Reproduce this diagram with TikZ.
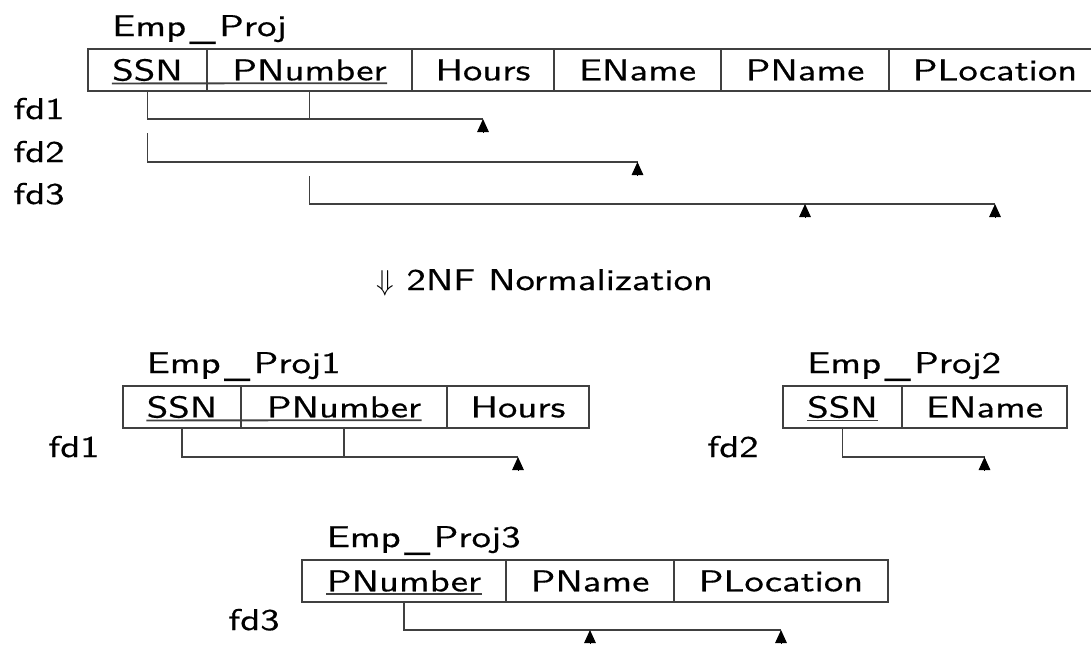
\documentclass[tikz,border=0pt]{standalone}
\usepackage{fontspec}
\setmainfont{lmsans10-regular.otf}[FakeStretch=1.29, FakeBold=0.5]
\usetikzlibrary{positioning,arrows.meta}
\newcommand{\relus}{\kern.12em\raisebox{-1.5pt}{\_}\kern.12em}

\begin{document}
\begin{tikzpicture}[x=0.5pt,y=-0.5pt,
    font=\fontsize{15}{18}\selectfont,
    cell/.style={draw=black!75, line width=0.9pt, minimum height=21pt, inner sep=0pt, outer sep=0pt},
    attr/.style={inner sep=0pt},
    title/.style={anchor=base west, inner sep=0pt, yshift=6.5pt},
    fdlabel/.style={anchor=base west, inner sep=0pt},
    fd/.style={draw=black!75, line width=0.9pt},
    tip/.style={-{Triangle[length=6.5pt,width=5.8pt]}, line width=0.5pt}]
  \useasboundingbox (0,0) rectangle (1091,644);
  \coordinate (l1) at (0,119);
  \coordinate (l2) at (0,162);
  \coordinate (l3) at (0,204);
  \coordinate (l4) at (0,457);
  \coordinate (l5) at (0,630);

  % Emp_Proj
  \node[cell, minimum width=59.5pt, label={[attr,name=ssnT]center:SSN}] (ssn) at (147.5,70) {};
  \node[cell, minimum width=102.5pt, right=0pt of ssn, label={[attr,name=pnumT]center:PNumber}] (pnum) {};
  \node[cell, minimum width=71pt, right=0pt of pnum] (hours) {Hours};
  \node[cell, minimum width=83.5pt, right=0pt of hours] (ename) {EName};
  \node[cell, minimum width=84pt, right=0pt of ename] (pname) {PName};
  \node[cell, minimum width=106pt, right=0pt of pname] (ploc) {PLocation};
  \node[title] (emp) at (ssnT.west |- ssn.north) {Emp\relus Proj};
  \draw[fd] ([yshift=-1.5pt]ssnT.base west) -- ([yshift=-1.5pt]pnumT.base east);

  \node[fdlabel] (fd1) at (13,119) {fd1};
  \node[fdlabel] (fd2) at (13,162) {fd2};
  \node[fdlabel] (fd3) at (13,204) {fd3};

  \draw[fd] (ssn.south) |- (hours.south |- l1);
  \draw[fd] (pnum.south) -- (pnum.south |- l1);
  \draw[tip] (hours.south |- l1) ++(0,13) -- (hours.south |- l1);

  \draw[fd] (ssn.south |- l1) ++(0,14) |- (ename.south |- l2);
  \draw[tip] (ename.south |- l2) ++(0,13) -- (ename.south |- l2);

  \draw[fd] (pnum.south |- l2) ++(0,14) |- (ploc.south |- l3);
  \draw[tip] (pname.south |- l3) ++(0,13) -- (pname.south |- l3);
  \draw[tip] (ploc.south |- l3) ++(0,13) -- (ploc.south |- l3);

  \node[anchor=base] (norm) at (544.5,290) {$\Downarrow$ 2NF Normalization};

  % Emp_Proj1
  \node[cell, minimum width=59pt, label={[attr,name=ssn1T]center:SSN}] (ssn1) at (182,407) {};
  \node[cell, minimum width=103pt, right=0pt of ssn1, label={[attr,name=pnum1T]center:PNumber}] (pnum1) {};
  \node[cell, minimum width=71pt, right=0pt of pnum1] (hours1) {Hours};
  \node[title] (emp1) at (ssn1T.west |- ssn1.north) {Emp\relus Proj1};
  \draw[fd] ([yshift=-1.5pt]ssn1T.base west) -- ([yshift=-1.5pt]pnum1T.base east);
  \node[fdlabel] (fd1b) at (48,457) {fd1};
  \draw[fd] (ssn1.south) |- (hours1.south |- l4);
  \draw[fd] (pnum1.south) -- (pnum1.south |- l4);
  \draw[tip] (hours1.south |- l4) ++(0,13) -- (hours1.south |- l4);

  % Emp_Proj2
  \node[cell, minimum width=59.5pt, label={[attr,name=ssn2T]center:SSN}] (ssn2) at (842.5,407) {};
  \node[cell, minimum width=82.5pt, right=0pt of ssn2] (ename2) {EName};
  \node[title] (emp2) at (ssn2T.west |- ssn2.north) {Emp\relus Proj2};
  \draw[fd] ([yshift=-1.5pt]ssn2T.base west) -- ([yshift=-1.5pt]ssn2T.base east);
  \node[fdlabel] (fd2b) at (707,457) {fd2};
  \draw[fd] (ssn2.south) |- (ename2.south |- l4);
  \draw[tip] (ename2.south |- l4) ++(0,13) -- (ename2.south |- l4);

  % Emp_Proj3
  \node[cell, minimum width=102pt, label={[attr,name=pnum3T]center:PNumber}] (pnum3) at (404,581) {};
  \node[cell, minimum width=84pt, right=0pt of pnum3] (pname3) {PName};
  \node[cell, minimum width=107pt, right=0pt of pname3] (ploc3) {PLocation};
  \node[title] (emp3) at (pnum3T.west |- pnum3.north) {Emp\relus Proj3};
  \draw[fd] ([yshift=-1.5pt]pnum3T.base west) -- ([yshift=-1.5pt]pnum3T.base east);
  \node[fdlabel] (fd3b) at (228,630) {fd3};
  \draw[fd] (pnum3.south) |- (ploc3.south |- l5);
  \draw[tip] (pname3.south |- l5) ++(0,13) -- (pname3.south |- l5);
  \draw[tip] (ploc3.south |- l5) ++(0,13) -- (ploc3.south |- l5);
\end{tikzpicture}
\end{document}
